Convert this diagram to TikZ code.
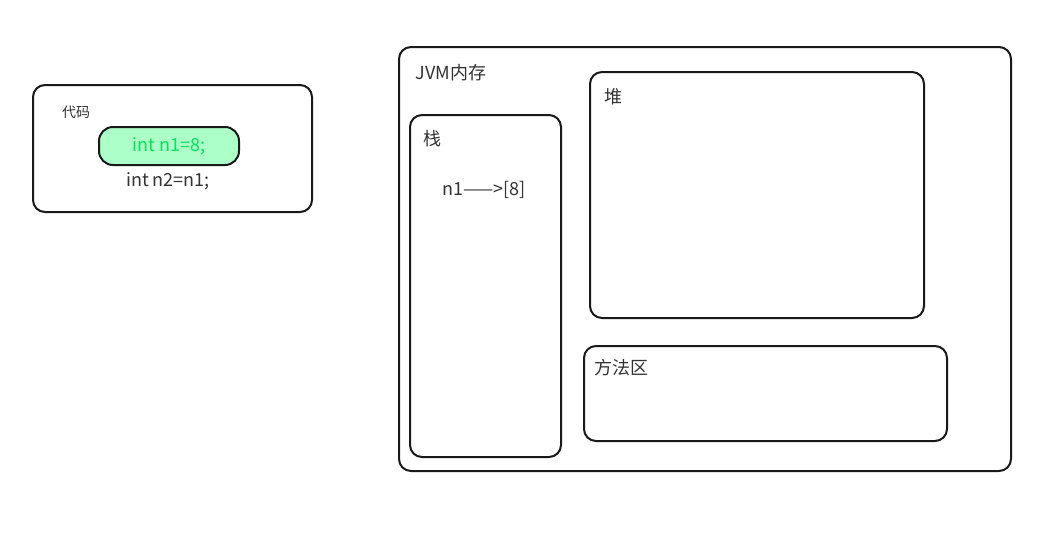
\documentclass[tikz,border=0pt]{standalone}
\usepackage{fontspec}
\setmainfont{Noto Sans CJK SC}
\begin{document}
\begin{tikzpicture}[x=1pt,y=-1pt,
  box/.style={draw=black!90,line width=2pt,rounded corners=12pt},
  lbl/.style={font=\fontsize{18}{20}\selectfont,text=black!80}]
\useasboundingbox (0,0) rectangle (1041,555);
\fill[white] (0,0) rectangle (1041,555);
\draw[box] (33,85) rectangle (312,212);
\node[lbl,font=\fontsize{14}{16}\selectfont] (code) at (76,112) {代码};
\node[draw=black!90,line width=2pt,fill=green!25!white!90!cyan,rounded corners=14pt,minimum width=140pt,minimum height=38pt,text=green!60!cyan!90!black,font=\fontsize{18}{20}\selectfont] (n1) at (169,146) {int n1=8;};
\node[lbl] (n2) at (168,181) {int n2=n1;};
\draw[box] (399,47) rectangle (1011,471);
\node[lbl] (jvm) at (451,73) {JVM内存};
\draw[box] (410,115) rectangle (561,457);
\node[lbl] (zhan) at (432,139) {栈};
\node[lbl] (st) at (484,190) {n1——>[8]};
\draw[box] (590,72) rectangle (924,318);
\node[lbl] (dui) at (613,97) {堆};
\draw[box] (584,346) rectangle (947,441);
\node[lbl] (ff) at (621,368) {方法区};
\end{tikzpicture}
\end{document}
